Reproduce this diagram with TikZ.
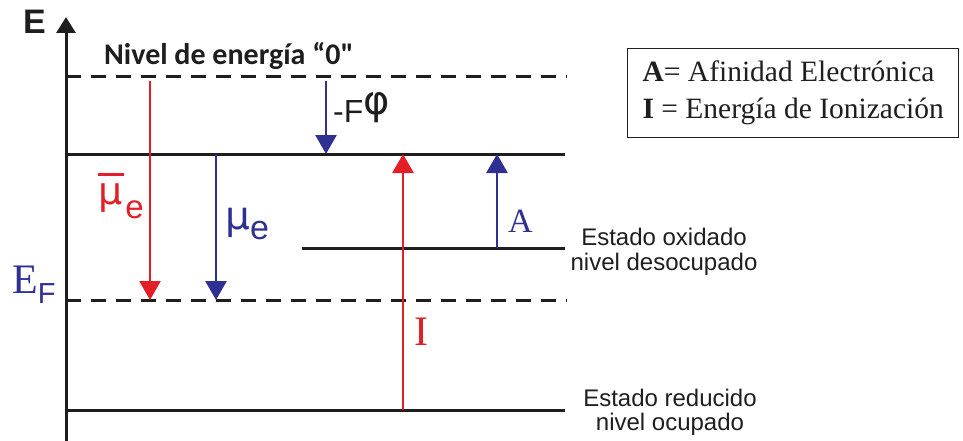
\documentclass[tikz,border=0pt]{standalone}
\usepackage{fontspec}
\setmainfont{Liberation Serif}
\setsansfont{Liberation Sans}
\newfontfamily\calibri{Carlito}
\newfontfamily\greekfont{DejaVu Sans}
\usetikzlibrary{arrows.meta}
\definecolor{ered}{RGB}{228,30,38}
\definecolor{eblue}{RGB}{46,49,146}
\definecolor{ink}{RGB}{30,30,30}

\begin{document}
\begin{tikzpicture}[x=1pt,y=-1pt]
\tikzset{
  level/.style={line width=3pt,draw=ink},
  dashlevel/.style={line width=3pt,draw=ink,dash pattern=on 15pt off 10pt},
  redarrow/.style={-{Triangle[width=21pt,length=19pt]},line width=2.6pt,draw=ered},
  bluearrow/.style={-{Triangle[width=21pt,length=19pt]},line width=2.6pt,draw=eblue},
  txt/.style={inner sep=0pt,text=ink}
}
\useasboundingbox (0,0) rectangle (963,441);
% energy axis
\coordinate (ax_bot) at (66,441);
\coordinate (ax_top) at (66,17);
\draw[line width=3pt,draw=ink,-{Triangle[width=19pt,length=16pt]}] (ax_bot) -- (ax_top);
\node[txt,anchor=base west,font=\sffamily\bfseries\fontsize{34}{34}\selectfont] (lbl_E) at (23,34) {E};
% levels
\coordinate (vac_l) at (66,77);   \coordinate (vac_r) at (567,77);
\coordinate (sol_l) at (66,154);  \coordinate (sol_r) at (565,154);
\coordinate (ox_l) at (302,248);  \coordinate (ox_r) at (565,248);
\coordinate (ef_l) at (66,300);   \coordinate (ef_r) at (567,300);
\coordinate (rd_l) at (66,410);   \coordinate (rd_r) at (565,410);
\draw[dashlevel] (vac_l) -- (vac_r);
\draw[level] (sol_l) -- (sol_r);
\draw[level] (ox_l) -- (ox_r);
\draw[dashlevel] (ef_l) -- (ef_r);
\draw[level] (rd_l) -- (rd_r);
% arrows
\coordinate (mub_s) at (150,81);  \coordinate (mub_e) at (150,300);
\coordinate (mu_s) at (216,154);  \coordinate (mu_e) at (216,300);
\coordinate (phi_s) at (326,81);  \coordinate (phi_e) at (326,154);
\coordinate (ion_s) at (403,410); \coordinate (ion_e) at (403,154);
\coordinate (aff_s) at (497,248); \coordinate (aff_e) at (497,154);
\draw[redarrow] (mub_s) -- (mub_e);
\draw[bluearrow] (mu_s) -- (mu_e);
\draw[bluearrow] (phi_s) -- (phi_e);
\draw[redarrow] (ion_s) -- (ion_e);
\draw[bluearrow] (aff_s) -- (aff_e);
% labels
\node[txt,anchor=base west,font=\calibri\bfseries\fontsize{30}{30}\selectfont] (lbl_zero) at (104,65) {Nivel de energía “0"};
\node[txt,anchor=base west,text=ered,font=\sffamily\fontsize{33}{33}\selectfont] (lbl_mubar) at (98,204)
  {\makebox[0pt][l]{\raisebox{28pt}{\rule{26pt}{2.8pt}}}{\greekfont\fontsize{38}{38}\selectfont μ}\hspace{3pt}\raisebox{-14pt}{e}};
\node[txt,anchor=base west,text=eblue,font=\sffamily\fontsize{34}{34}\selectfont] (lbl_mu) at (225,229)
  {{\greekfont\fontsize{39}{39}\selectfont μ}\raisebox{-10pt}{e}};
\node[txt,anchor=base west,text=eblue,font=\fontsize{42}{42}\selectfont] (lbl_EF) at (12,293)
  {E\raisebox{-10pt}{\sffamily\fontsize{29}{29}\selectfont F}};
\node[txt,anchor=base west,font=\sffamily\fontsize{32}{32}\selectfont] (lbl_phi) at (333,122)
  {-F\raisebox{7pt}{\greekfont\fontsize{40}{40}\selectfont φ}};
\node[txt,anchor=base west,text=eblue,font=\fontsize{34}{34}\selectfont] (lbl_A) at (508,232) {A};
\node[txt,anchor=base west,text=ered,font=\fontsize{42}{42}\selectfont] (lbl_I) at (414,345) {I};
\node[txt,anchor=north,align=center,font=\sffamily\fontsize{24}{25}\selectfont] (lbl_ox) at (664,228)
  {Estado oxidado\\nivel desocupado};
\node[txt,anchor=north,align=center,font=\sffamily\fontsize{24}{24}\selectfont] (lbl_rd) at (670,389)
  {Estado reducido\\nivel ocupado};
% legend box
\node[txt,draw=ink,line width=1.4pt,anchor=north west,align=left,minimum width=331pt,minimum height=89pt,
  font=\fontsize{29.5}{37}\selectfont] (legend) at (627,48)
  {\textbf{A}= Afinidad Electrónica\\\textbf{I} = Energía de Ionización};
\end{tikzpicture}
\end{document}
